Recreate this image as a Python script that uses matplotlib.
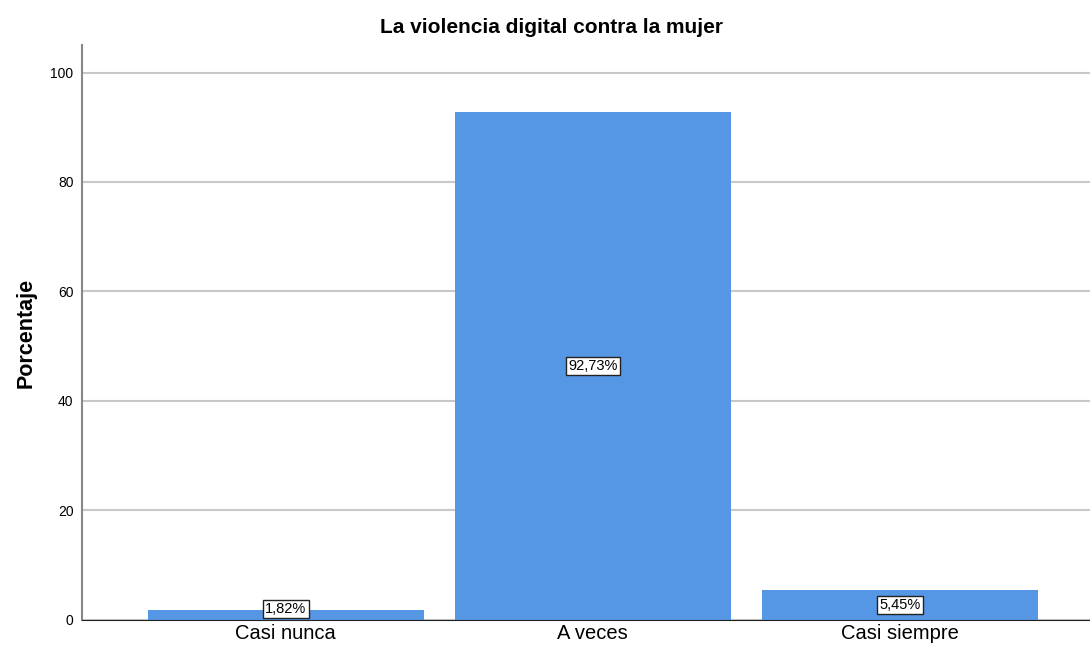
import matplotlib.pyplot as plt
import numpy as np

categories = ['Casi nunca', 'A veces', 'Casi siempre']
values = [1.82, 92.73, 5.45]
labels = ['1,82%', '92,73%', '5,45%']

plt.rcParams['font.family'] = ['Liberation Sans', 'DejaVu Sans']

fig = plt.figure(figsize=(10.9, 6.54), dpi=100)
ax = fig.add_axes([0.075, 0.052, 0.925, 0.879])

x = np.arange(len(categories))
ax.bar(x, values, width=0.9, color='#5596e5', zorder=2)

for xi, v, lab in zip(x, values, labels):
    ax.text(xi, max(v / 2, 2.0), lab, ha='center', va='center', fontsize=10.5, zorder=3,
            bbox=dict(boxstyle='square,pad=0.15', fc='white', ec='#222222', lw=1))

ax.set_xlim(-0.665, 2.62)
ax.set_ylim(0, 105)
ax.set_yticks([0, 20, 40, 60, 80, 100])
ax.yaxis.grid(True, color='#c8c8c8', lw=1.5, zorder=1)
ax.set_xticks(x)
ax.set_xticklabels(categories, fontsize=14.5)
ax.tick_params(axis='both', length=0)
ax.tick_params(axis='y', labelsize=10, pad=6)
ax.tick_params(axis='x', pad=3)

for s in ['top', 'right']:
    ax.spines[s].set_visible(False)
ax.spines['left'].set_color('#888888')
ax.spines['left'].set_linewidth(1.5)
ax.spines['bottom'].set_color('#222222')

ax.set_ylabel('Porcentaje', fontsize=15.5, fontweight='bold', labelpad=10)
fig.text(0.506, 0.958, 'La violencia digital contra la mujer', ha='center', va='center',
         fontsize=15, fontweight='bold')

fig.savefig('out.png', dpi=100)
